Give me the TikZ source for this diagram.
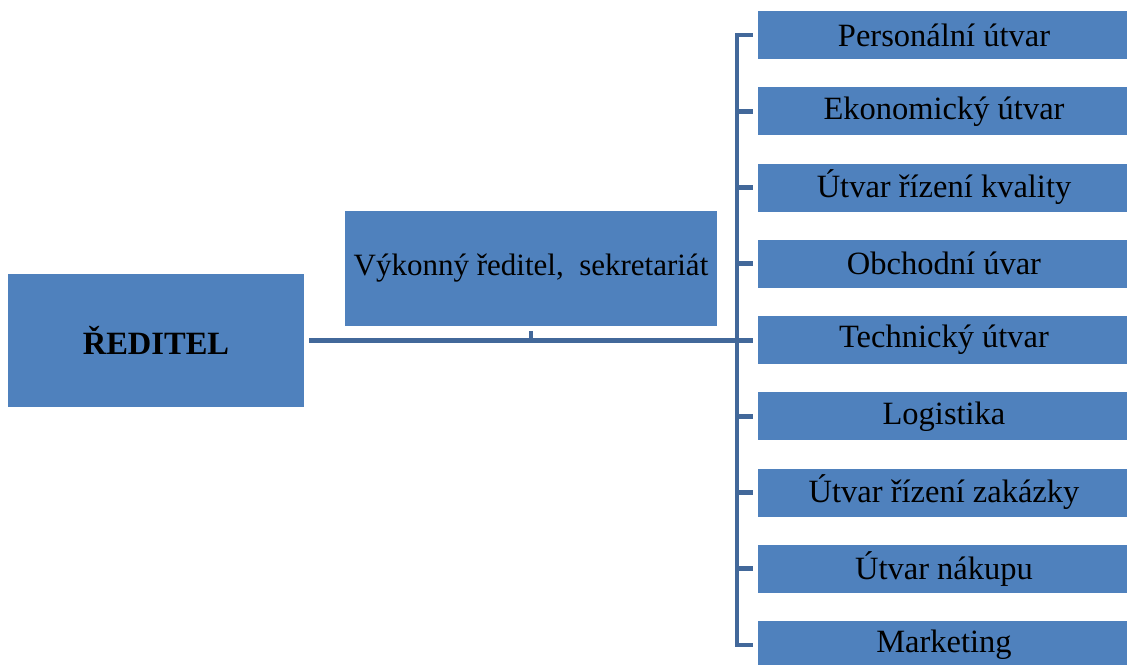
\documentclass[tikz,border=0pt]{standalone}
\usepackage{fontspec}
\setmainfont{Liberation Serif}
\usetikzlibrary{calc}
\definecolor{boxblue}{RGB}{79,129,189}
\definecolor{lineblue}{RGB}{66,104,154}
\tikzset{
  orgbox/.style={fill=boxblue, draw=none, inner sep=0pt, anchor=center, text=black,
    font=\fontsize{32.5}{38}\selectfont},
  unitbox/.style={orgbox, minimum width=372pt, minimum height=48pt},
  conn/.style={draw=lineblue, line width=4.8pt}
}
\begin{document}
\begin{tikzpicture}[x=1pt,y=-1pt]
\useasboundingbox (0,0) rectangle (1127,664);
\clip (0,0) rectangle (1127,664);
\node[orgbox, minimum width=296pt, minimum height=133pt] (dir) at (156,340.5) {\textbf{ŘEDITEL}};
\node[orgbox, minimum width=372pt, minimum height=115pt, font=\fontsize{31}{36}\selectfont] (vyk) at (531,268.5) {Výkonný ředitel,\ \ sekretariát};
\foreach \i/\t in {1/Personální útvar, 2/Ekonomický útvar, 3/Útvar řízení kvality, 4/Obchodní úvar, 5/Technický útvar, 6/Logistika, 7/Útvar řízení zakázky, 8/Útvar nákupu, 9/Marketing}{
  \node[unitbox] (b\i) at (944, {35+(\i-1)*76.25}) {\t};
}
\coordinate (spine) at (737,0);
\draw[conn] ([xshift=-5pt]b1.west) -- (spine |- b1.west) -- (spine |- b9.west) -- ([xshift=-5pt]b9.west);
\foreach \i in {2,...,8}{
  \draw[conn] (spine |- b\i.west) -- ([xshift=-5pt]b\i.west);
}
\draw[conn] ([xshift=5pt]dir.east) -- ([xshift=-5pt]dir.east -| b5.west);
\draw[conn] ([yshift=-5pt]vyk.south) -- (vyk.south |- dir.east);
\end{tikzpicture}
\end{document}
